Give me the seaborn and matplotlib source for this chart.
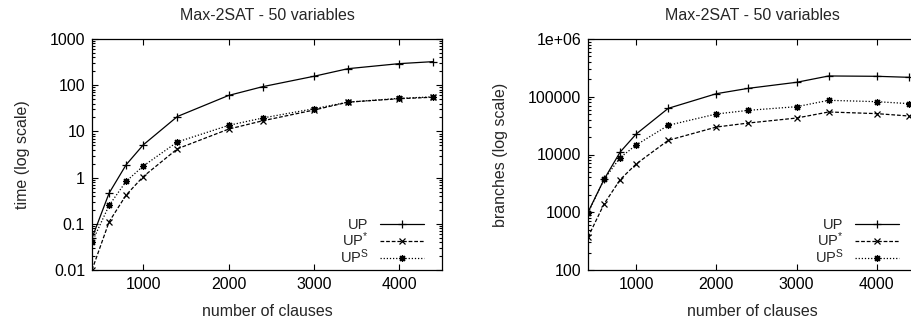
import numpy as np
import pandas as pd
import matplotlib
matplotlib.use("Agg")
import matplotlib.pyplot as plt
import matplotlib.ticker as mticker
import seaborn as sns

clauses = [400, 600, 800, 1000, 1400, 2000, 2400, 3000, 3400, 4000, 4400]
time_up = [0.049, 0.46, 1.9, 5.1, 21, 60, 93, 156, 228, 293, 324]
time_upstar = [0.01, 0.11, 0.42, 1.05, 4.2, 11.2, 17, 29, 43, 51, 55]
time_ups = [0.04, 0.25, 0.83, 1.78, 5.9, 13.5, 19.5, 31, 43, 52, 56]
br_up = [1000, 3700, 11000, 22600, 63000, 113000, 140000, 178000, 229000, 226000, 217000]
br_upstar = [370, 1390, 3660, 6850, 17600, 29900, 35100, 42800, 54500, 51000, 46400]
br_ups = [970, 3700, 8800, 14600, 32000, 50300, 58200, 67300, 86700, 82200, 76000]
series_labels = ["UP", "UP$^{*}$", "UP$^{S}$"]
time_ticks = [0.01, 0.1, 1, 10, 100, 1000]
time_ticklabels = ["0.01", "0.1", "1", "10", "100", "1000"]
br_ticks = [100, 1000, 10000, 100000, 1000000]
br_ticklabels = ["100", "1000", "10000", "100000", "1e+06"]
x_ticks = [1000, 2000, 3000, 4000]

sns.set_style("ticks")
plt.rcParams["font.family"] = ["Liberation Sans", "DejaVu Sans"]
plt.rcParams["mathtext.fontset"] = "custom"
plt.rcParams["mathtext.rm"] = "Liberation Sans"
plt.rcParams["mathtext.it"] = "Liberation Sans"
plt.rcParams["mathtext.default"] = "regular"

FS = 11.5
TFS = 11.5
LFS = 10.5
fig = plt.figure(figsize=(9.11, 3.22), dpi=100)
ax1 = fig.add_axes([92/911, 1-270/322, 350/911, 231/322])
ax2 = fig.add_axes([588/911, 1-270/322, 329/911, 231/322])

styles = [
    dict(linestyle="-", marker="+", ms=5.5),
    dict(linestyle=(0, (3, 1.5)), marker="x", ms=4.2),
    dict(linestyle=(0, (1, 1.5)), marker=(8, 2, 0), ms=5),
]

def draw(ax, ys, yticks, ylabels, ylabel, ylim, w):
    for y, lab, st in zip(ys, series_labels, styles):
        df = pd.DataFrame({"x": clauses, "y": y})
        sns.lineplot(data=df, x="x", y="y", ax=ax, color="black", lw=0.9,
                     label=lab, mew=0.9, mec="black", mfc="black", **st)
    ax.set_yscale("log")
    ax.set_xlim(400, 4500)
    ax.set_ylim(*ylim)
    ax.set_yticks(yticks)
    ax.yaxis.set_major_formatter(mticker.FixedFormatter(ylabels))
    ax.yaxis.set_minor_locator(mticker.LogLocator(base=10, subs=np.arange(2, 10)))
    ax.yaxis.set_minor_formatter(mticker.NullFormatter())
    ax.set_xticks(x_ticks)
    ax.set_xticklabels([str(t) for t in x_ticks])
    ax.tick_params(which="both", direction="in", top=True, right=True,
                   labelsize=TFS, width=0.8, colors="black", pad=5)
    ax.tick_params(which="major", length=4)
    ax.tick_params(which="minor", length=2)
    for s in ax.spines.values():
        s.set_linewidth(0.9)
        s.set_color("black")
    ax.set_xlabel("number of clauses", fontsize=FS, labelpad=9)
    ax.set_ylabel(ylabel, fontsize=FS, labelpad=14)
    ax.set_title("Max-2SAT - 50 variables", fontsize=FS, pad=14)
    leg = ax.legend(loc="lower right", bbox_to_anchor=(1.0 - 13.5 / w, 0.0),
                    frameon=False, markerfirst=False,
                    fontsize=LFS, handlelength=3.0, handletextpad=0.8,
                    labelspacing=-0.12, borderaxespad=0.0, borderpad=0.3)
    for t in leg.get_texts():
        t.set_ha("right")

draw(ax1, [time_up, time_upstar, time_ups], time_ticks, time_ticklabels,
     "time (log scale)", (0.01, 1000), 350)
draw(ax2, [br_up, br_upstar, br_ups], br_ticks, br_ticklabels,
     "branches (log scale)", (100, 1e6), 329)

fig.savefig("out.png", dpi=100)
